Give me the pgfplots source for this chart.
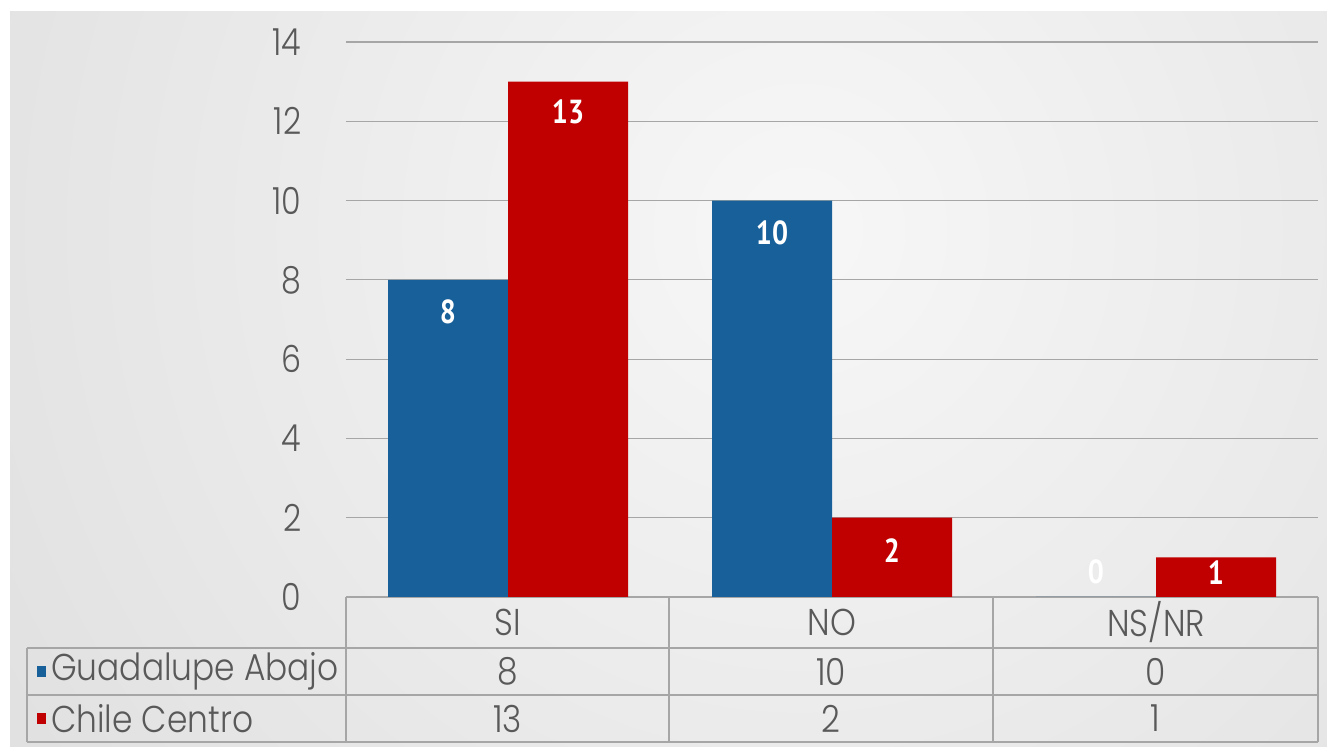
\documentclass[border=0pt]{standalone}
\usepackage{pgfplots}
\pgfplotsset{compat=1.18}
\usepackage{fontspec}
\setmainfont{Poppins Light}
\newfontfamily\lblfont{PT Sans}
\usepackage{graphicx}
\definecolor{gblue}{HTML}{17609A}
\definecolor{cred}{HTML}{C00000}
\definecolor{txt}{HTML}{595959}
\definecolor{gridc}{HTML}{A6A6A6}
\definecolor{bgA}{HTML}{F7F7F7}
\definecolor{bgB}{HTML}{DADADA}
\definecolor{bgC}{HTML}{C8C8C8}
\pgfdeclareradialshading{bgshade}{\pgfpoint{0bp}{0bp}}{color(0bp)=(bgA); color(32bp)=(bgB); color(50bp)=(bgC)}
\newcommand\sq[1]{\scalebox{0.85}[1]{#1}}
\newcommand\sqt[1]{\scalebox{0.88}[1]{#1}}
\newcommand\tfont{\fontsize{28}{30}\selectfont}

\pgfplotstableread{
x y off
0 8 -24
1 10 -24
2 0 18.75
}\guadalupe
\pgfplotstableread{
x y off
0 13 -23
1 2 -25
2 1 -11.25
}\chile

\begin{document}
\begin{tikzpicture}
% background (pixel coordinates, origin top-left)
\begin{scope}[x=0.75pt,y=-0.75pt,shift={(0,559.5pt)}]
  \path (0,0) rectangle (1327,746);
  \fill[bgC] (10,12) rectangle (1327,746);
  \begin{scope}
    \clip (10,12) rectangle (1327,746);
    \shade[shading=bgshade] (800,230) circle (950);
  \end{scope}
\end{scope}

\begin{axis}[
  at={(259.5pt,111.75pt)}, anchor=south west,
  scale only axis, width=729pt, height=416.25pt,
  xmin=-0.5, xmax=2.5, ymin=0, ymax=14,
  ybar=0pt, bar width=90pt,
  axis line style={draw=none}, major tick length=0pt,
  ytick={0,2,...,14}, ymajorgrids,
  grid style={color=gridc, line width=0.8pt},
  xtick={0,1,2}, xticklabels={\sqt{SI},\sqt{NO},\sqt{NS/NR}},
  xticklabel style={font=\tfont, text=txt, anchor=center, yshift=-18.75pt},
  yticklabel={\sq{\pgfmathprintnumber{\tick}}},
  yticklabel style={font=\tfont, text=txt, xshift=-30pt},
  /pgf/number format/assume math mode=true,
  clip=false,
  nodes near coords,
  nodes near coords={\sq{\pgfmathprintnumber{\pgfplotspointmeta}}},
  every node near coord/.append style={font=\lblfont\bfseries\fontsize{25}{26}\selectfont, text=white, anchor=center},
]
\addplot[fill=gblue, draw=none,
  visualization depends on={\thisrow{off} \as \off},
  every node near coord/.append style={yshift=\off pt}] table[x=x,y=y] {\guadalupe};
\addplot[fill=cred, draw=none,
  visualization depends on={\thisrow{off} \as \off},
  every node near coord/.append style={yshift=\off pt}] table[x=x,y=y] {\chile};
\end{axis}

% data table
\begin{scope}[x=0.75pt,y=-0.75pt,shift={(0,559.5pt)}]
  \draw[gridc, line width=0.8pt]
    (27,648) -- (1318,648)
    (27,695) -- (1318,695)
    (27,742) -- (1318,742)
    (27,648) -- (27,742)
    (346,597) -- (346,742)
    (669,597) -- (669,742)
    (993,597) -- (993,742)
    (1318,597) -- (1318,742);
  \fill[gblue] (37,666) rectangle (46,677);
  \fill[cred] (37,713) rectangle (46,724);
  \node[anchor=west, text=txt, font=\tfont, inner sep=0pt] at (51,671.5) {\sqt{Guadalupe Abajo}};
  \node[anchor=west, text=txt, font=\tfont, inner sep=0pt] at (51,718.5) {\sqt{Chile Centro}};
  \node[text=txt, font=\tfont] at (507.5,671.5) {\sqt{8}};
  \node[text=txt, font=\tfont] at (831,671.5) {\sqt{10}};
  \node[text=txt, font=\tfont] at (1155.5,671.5) {\sqt{0}};
  \node[text=txt, font=\tfont] at (507.5,718.5) {\sqt{13}};
  \node[text=txt, font=\tfont] at (831,718.5) {\sqt{2}};
  \node[text=txt, font=\tfont] at (1155.5,718.5) {\sqt{1}};
\end{scope}
\end{tikzpicture}
\end{document}
